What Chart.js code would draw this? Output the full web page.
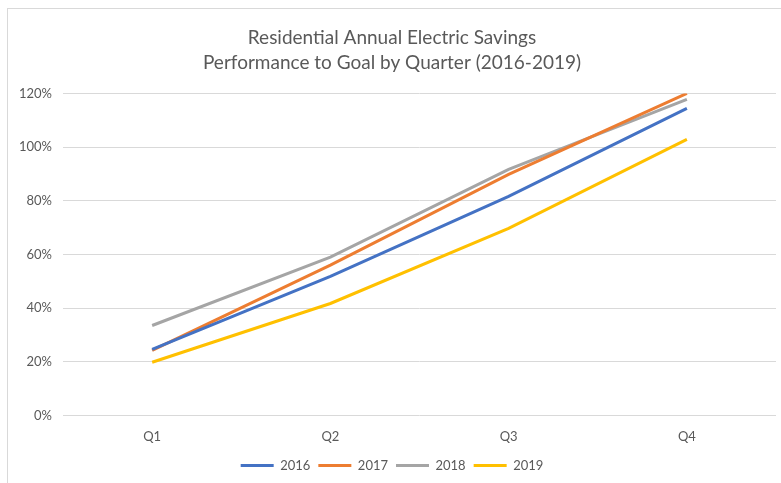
<!DOCTYPE html>
<html>
<head>
<meta charset="utf-8">
<script src="https://cdn.jsdelivr.net/npm/chart.js@4"></script>
<style>
  body { margin: 0; background: #fff; }
  #wrap {
    position: absolute; left: 7px; top: 8px;
    width: 774px; height: 475px;
    border-left: 1px solid #d9d9d9; border-top: 1px solid #d9d9d9;
  }
  canvas { display: block; }
</style>
</head>
<body>
<div id="wrap"><canvas id="myChart" width="774" height="475"></canvas></div>
<script>
const quarters = ["Q1", "Q2", "Q3", "Q4"];
const savings2016 = [0.246, 0.518, 0.816, 1.144];
const savings2017 = [0.242, 0.560, 0.898, 1.200];
const savings2018 = [0.335, 0.590, 0.917, 1.178];
const savings2019 = [0.198, 0.417, 0.697, 1.029];

const textColor = "#595959";
const fontFamily = "Lato, 'Open Sans', sans-serif";

function line(label, values, color) {
  return {
    label,
    data: values,
    borderColor: color,
    backgroundColor: color,
    borderWidth: 3,
    pointRadius: 0,
    tension: 0,
    fill: false,
  };
}

const ctx = document.getElementById("myChart");

new Chart(ctx, {
  type: "line",
  data: {
    labels: quarters,
    datasets: [
      line("2016", savings2016, "#4472C4"),
      line("2017", savings2017, "#ED7D31"),
      line("2018", savings2018, "#A5A5A5"),
      line("2019", savings2019, "#FFC000"),
    ],
  },
  options: {
    responsive: false,
    animation: false,
    layout: { padding: { left: 0, right: 6, top: 17, bottom: 2 } },
    plugins: {
      title: {
        display: true,
        text: ["Residential Annual Electric Savings", "Performance to Goal by Quarter (2016-2019)"],
        color: textColor,
        font: { family: fontFamily, size: 19, weight: "normal", lineHeight: 1.3 },
        padding: { top: 0, bottom: 18 },
      },
      legend: {
        position: "bottom",
        labels: {
          usePointStyle: true,
          pointStyle: "line",
          pointStyleWidth: 33,
          color: textColor,
          font: { family: fontFamily, size: 13 },
          padding: 8,
        },
      },
      tooltip: { enabled: false },
    },
    scales: {
      x: {
        offset: true,
        grid: { display: false },
        border: { display: false },
        ticks: { color: textColor, font: { family: fontFamily, size: 13 }, padding: 6 },
      },
      y: {
        min: 0,
        max: 1.2,
        ticks: {
          stepSize: 0.2,
          color: textColor,
          font: { family: fontFamily, size: 13 },
          padding: 11,
          callback: (v) => Math.round(v * 100) + "%",
        },
        grid: { color: "#d9d9d9", drawTicks: false },
        border: { display: false },
      },
    },
  },
});
</script>
</body>
</html>
